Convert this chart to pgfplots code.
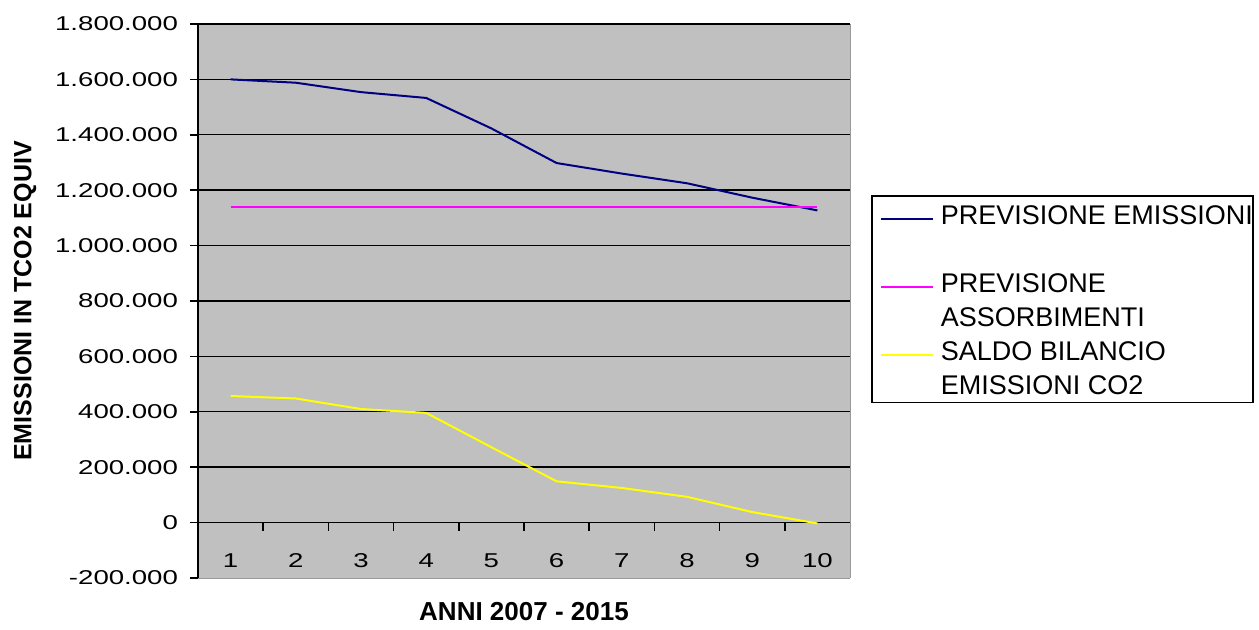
\documentclass[border=0pt]{standalone}
\usepackage{pgfplots}
\pgfplotsset{compat=1.18}
\usepackage{fontspec}
\setmainfont{Liberation Sans}
\newfontfamily\tickfont[FakeStretch=1.38]{Liberation Sans}
\definecolor{plotbg}{HTML}{C0C0C0}
\definecolor{navy}{HTML}{000080}
\definecolor{mag}{HTML}{FF00FF}
\definecolor{yel}{HTML}{FFFF00}
\begin{document}
\begin{tikzpicture}
\path[use as bounding box] (-99pt,-26pt) rectangle (530.5pt,289pt);
\begin{axis}[
  at={(0,0)}, anchor=south west,
  scale only axis, width=326pt, height=277pt,
  xmin=0.5, xmax=10.5, ymin=-200000, ymax=1800000,
  axis x line*=middle, axis y line*=left,
  axis background/.style={fill=plotbg},
  x axis line style={black, line width=0.7pt},
  y axis line style={black, line width=0.8pt},
  tick align=outside, major tick length=4pt,
  xtick={1,...,10},
  xtick style={draw=none},
  extra x ticks={1.5,2.5,...,9.5}, extra x tick labels={},
  extra x tick style={xtick style={draw=black, line width=0.8pt}},
  ytick={0,200000,...,1800000},
  extra y ticks={-200000}, extra y tick style={grid=none},
  ytick style={black, line width=0.8pt},
  scaled y ticks=false,
  ymajorgrids, grid style={black, line width=0.7pt},
  /pgf/number format/1000 sep={.},
  /pgf/number format/fixed,
  /pgf/number format/precision=0,
  /pgf/number format/assume math mode=true,
  yticklabel style={font=\tickfont\fontsize{10pt}{11pt}\selectfont, xshift=-2.5pt},
  xticklabel style={font=\tickfont\fontsize{10pt}{11pt}\selectfont, anchor=center, yshift=-15pt},
  legend style={at={(axis description cs:1.0322,0.6913)}, anchor=north west,
    draw=black, line width=0.8pt, inner xsep=0pt, inner ysep=2.5pt,
    row sep=3.6pt, column sep=0pt,
    font=\fontsize{13.5pt}{17pt}\selectfont,
    nodes={inner sep=0pt}, cells={anchor=base west}},
  legend image code/.code={\path[draw=none] (0pt,0pt) -- (34.5pt,0pt); \draw[#1,line width=1pt] (4.5pt,3pt) -- (30.5pt,3pt);},
  after end axis/.code={
    \draw[gray!80] (rel axis cs:1,0) -- (rel axis cs:1,1);
    \draw[gray!80] (rel axis cs:0,0) -- (rel axis cs:1,0);
    \node[font=\bfseries\fontsize{13pt}{15pt}\selectfont, anchor=center] at (axis description cs:0.5,-0.0614) {ANNI 2007 - 2015};
    \node[font=\bfseries\fontsize{12.5pt}{14pt}\selectfont, rotate=90, anchor=center] at (axis description cs:-0.2653,0.5) {EMISSIONI IN TCO2 EQUIV};
  },
]
\addplot[navy, line width=1pt] coordinates {(1,1600000) (2,1588000) (3,1554000) (4,1533000) (5,1423000) (6,1298000) (7,1260000) (8,1225000) (9,1173000) (10,1127000)};
\addlegendentry{\strut PREVISIONE EMISSIONI\hspace{3pt}}
\addlegendimage{empty legend}
\addlegendentry{\strut}
\addplot[mag, line width=1pt] coordinates {(1,1140000) (2,1140000) (3,1140000) (4,1140000) (5,1140000) (6,1140000) (7,1140000) (8,1140000) (9,1140000) (10,1140000)};
\addlegendentry{\strut PREVISIONE}
\addlegendimage{empty legend}
\addlegendentry{\strut ASSORBIMENTI}
\addplot[yel, line width=1pt] coordinates {(1,457000) (2,448000) (3,410000) (4,396000) (5,272000) (6,149000) (7,125000) (8,93000) (9,38000) (10,-3000)};
\addlegendentry{\strut SALDO BILANCIO}
\addlegendimage{empty legend}
\addlegendentry{\strut EMISSIONI CO2}
\end{axis}
\end{tikzpicture}
\end{document}
